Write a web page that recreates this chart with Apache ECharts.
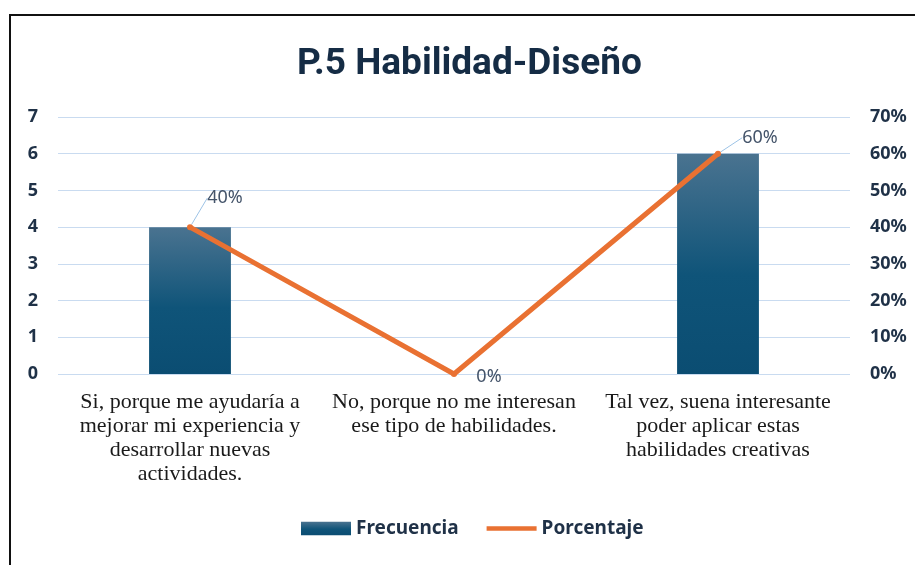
<!DOCTYPE html>
<html>
<head>
<meta charset="utf-8">
<script src="https://cdn.jsdelivr.net/npm/echarts@6/dist/echarts.min.js"></script>
<style>
  html, body { margin: 0; padding: 0; background: #fff; }
  #frame { position: absolute; left: 9px; top: 14px; width: 920px; height: 560px; border-left: 2px solid #111; border-top: 2px solid #111; }
  #chart { width: 915px; height: 565px; }
</style>
</head>
<body>
<div id="frame"></div>
<div id="chart"></div>
<script>
const categories = [
  'Si, porque me ayudaría a\nmejorar mi experiencia y\ndesarrollar nuevas\nactividades.',
  'No, porque no me interesan\nese tipo de habilidades.',
  'Tal vez, suena interesante\npoder aplicar estas\nhabilidades creativas'
]
const frecuencia = [4, 0, 6]
const porcentaje = [40, 0, 60]
const leftTicks = [0, 1, 2, 3, 4, 5, 6, 7]

// desplazamiento de cada etiqueta de porcentaje
const labelShift = [[35, -12], [35, 20], [42, 1]]

const navy = '#1f3147'
const chart = echarts.init(document.getElementById('chart'))

chart.setOption({
  animation: false,
  title: {
    text: 'P.5 Habilidad-Diseño',
    left: 292,
    top: 41,
    textStyle: {
      fontFamily: 'Roboto, sans-serif',
      fontSize: 37,
      fontWeight: 'bold',
      color: '#152c45'
    }
  },
  legend: {
    bottom: 22,
    left: 296,
    itemGap: 28,
    itemWidth: 50,
    itemHeight: 14,
    textStyle: { fontFamily: 'Noto Sans', fontSize: 19, fontWeight: 'bold', color: navy },
    data: [
      { name: 'Frecuencia', icon: 'path://M0,0 L48,0 L48,13 L0,13 Z' },
      { name: 'Porcentaje', icon: 'path://M0,0 L54,0 L54,5 L0,5 Z', itemStyle: { color: '#e97132' } }
    ]
  },
  grid: { left: 58, right: 65, top: 117, bottom: 191 },
  xAxis: {
    type: 'category',
    data: categories,
    axisLine: { show: false },
    axisTick: { show: false },
    axisLabel: {
      margin: 16,
      interval: 0,
      fontFamily: 'Liberation Serif, serif',
      fontSize: 22,
      lineHeight: 24,
      color: '#1a1a1a'
    }
  },
  yAxis: [
    {
      type: 'value',
      min: leftTicks[0],
      max: leftTicks[leftTicks.length - 1],
      interval: 1,
      axisLabel: {
        margin: 20,
        fontFamily: 'Noto Sans',
        fontSize: 18,
        fontWeight: 'bold',
        color: navy
      },
      splitLine: { lineStyle: { color: '#c9dbf0', width: 1 } }
    },
    {
      type: 'value',
      min: 0,
      max: 70,
      interval: 10,
      axisLabel: {
        margin: 20,
        formatter: '{value}%',
        fontFamily: 'Noto Sans',
        fontSize: 18,
        fontWeight: 'bold',
        color: navy
      },
      splitLine: { show: false }
    }
  ],
  series: [
    {
      name: 'Frecuencia',
      type: 'bar',
      barWidth: '31%',
      data: frecuencia,
      itemStyle: {
        color: new echarts.graphic.LinearGradient(0, 0, 0, 1, [
          { offset: 0, color: '#4a7390' },
          { offset: 0.55, color: '#0f5479' },
          { offset: 1, color: '#0b4d72' }
        ])
      }
    },
    {
      name: 'Porcentaje',
      type: 'line',
      yAxisIndex: 1,
      symbol: 'circle',
      symbolSize: 6,
      lineStyle: { color: '#e97132', width: 5 },
      itemStyle: { color: '#e97132' },
      label: {
        show: true,
        position: 'top',
        formatter: '{c}%',
        fontFamily: 'Noto Sans',
        fontSize: 18,
        color: '#44546a'
      },
      labelLine: { show: true, lineStyle: { color: '#9dc3e6', width: 1 } },
      labelLayout: (params) => ({
        dx: labelShift[params.dataIndex][0],
        dy: labelShift[params.dataIndex][1]
      }),
      // el 0% no lleva línea guía
      data: porcentaje.map((v, i) => ({ value: v, labelLine: { show: v !== 0 } }))
    }
  ]
})
</script>
</body>
</html>
